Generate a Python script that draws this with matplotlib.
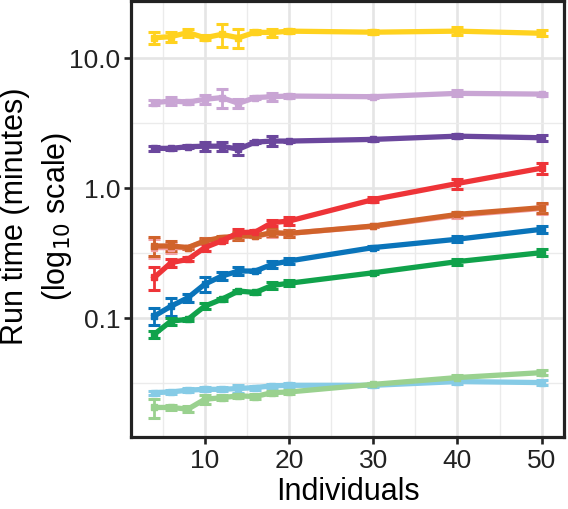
import numpy as np
import matplotlib
matplotlib.use("Agg")
import matplotlib.pyplot as plt
from matplotlib.ticker import FixedLocator, NullFormatter

plt.rcParams['font.family'] = ['Liberation Sans', 'DejaVu Sans']

individuals = [4, 6, 8, 10, 12, 14, 16, 18, 20, 30, 40, 50]

# run time (minutes) and error bar half-widths, one pair per series
yellow = [14.4, 14.7, 15.8, 14.4, 15.3, 14.4, 15.9, 15.8, 16.2, 15.9, 16.2, 15.6]
yellow_err = [1.6, 1.3, 1.1, 0.6, 3.0, 2.4, 0.6, 1.1, 0.6, 0.5, 1.1, 0.8]
lilac = [4.56, 4.70, 4.61, 4.84, 4.99, 4.51, 4.99, 5.07, 5.13, 5.07, 5.38, 5.31]
lilac_err = [0.2, 0.34, 0.15, 0.35, 0.85, 0.33, 0.15, 0.36, 0.2, 0.15, 0.28, 0.15]
purple = [2.03, 2.03, 2.09, 2.11, 2.11, 2.0, 2.27, 2.31, 2.31, 2.38, 2.52, 2.45]
purple_err = [0.08, 0.05, 0.05, 0.18, 0.18, 0.18, 0.05, 0.2, 0.05, 0.08, 0.08, 0.13]
pink = [0.35, 0.35, 0.35, 0.39, 0.41, 0.43, 0.43, 0.45, 0.45, 0.51, 0.62, 0.70]
pink_err = [0.06, 0.03, 0.01, 0.02, 0.01, 0.03, 0.01, 0.03, 0.03, 0.01, 0.03, 0.06]
orange = [0.36, 0.36, 0.35, 0.394, 0.418, 0.43, 0.43, 0.456, 0.45, 0.513, 0.63, 0.71]
orange_err = [0.06, 0.03, 0.01, 0.02, 0.01, 0.03, 0.01, 0.03, 0.03, 0.01, 0.03, 0.06]
red = [0.206, 0.268, 0.284, 0.35, 0.394, 0.456, 0.461, 0.545, 0.56, 0.82, 1.09, 1.43]
red_err = [0.04, 0.02, 0.01, 0.02, 0.01, 0.03, 0.015, 0.03, 0.04, 0.04, 0.1, 0.13]
blue = [0.104, 0.124, 0.144, 0.183, 0.211, 0.231, 0.231, 0.26, 0.276, 0.35, 0.406, 0.484]
blue_err = [0.016, 0.02, 0.01, 0.025, 0.015, 0.015, 0.005, 0.015, 0.015, 0.01, 0.02, 0.03]
green = [0.0753, 0.0953, 0.098, 0.124, 0.14, 0.162, 0.158, 0.179, 0.186, 0.224, 0.273, 0.32]
green_err = [0.005, 0.006, 0.003, 0.007, 0.003, 0.004, 0.004, 0.01, 0.01, 0.005, 0.015, 0.02]
lightblue = [0.0268, 0.0271, 0.028, 0.0284, 0.0284, 0.0288, 0.0293, 0.0302, 0.0305, 0.0305, 0.0326, 0.032]
lightblue_err = [0.001, 0.001, 0.001, 0.001, 0.001, 0.002, 0.001, 0.001, 0.001, 0.001, 0.0015, 0.0015]
lightgreen = [0.0206, 0.0206, 0.02, 0.0238, 0.0245, 0.0253, 0.025, 0.0268, 0.0271, 0.031, 0.035, 0.0382]
lightgreen_err = [0.0035, 0.001, 0.001, 0.002, 0.001, 0.001, 0.001, 0.001, 0.001, 0.001, 0.0015, 0.0015]

series = [
    (yellow, yellow_err, "#FFD21F"),
    (lilac, lilac_err, "#C9A5D4"),
    (purple, purple_err, "#6B479D"),
    (pink, pink_err, "#F3A0A6"),
    (orange, orange_err, "#D0632B"),
    (red, red_err, "#EE3438"),
    (blue, blue_err, "#0A74BA"),
    (green, green_err, "#10A24B"),
    (lightblue, lightblue_err, "#86CBE6"),
    (lightgreen, lightgreen_err, "#9AD18F"),
]

fig = plt.figure(figsize=(5.68, 5.09), dpi=100)
ax = fig.add_axes([0.2315, 0.1405, 0.7623, 0.8566])

for y, err, col in series:
    ax.errorbar(individuals, y, yerr=err, color=col, lw=3.8, elinewidth=2.0,
                capsize=4, capthick=2.2, marker='s', ms=5, zorder=3)

ax.set_yscale('log')
ax.set_xlim(1.3, 52.7)
ax.set_ylim(0.0121, 27.4)

ax.yaxis.set_major_locator(FixedLocator([0.1, 1.0, 10.0]))
ax.set_yticklabels(["0.1", "1.0", "10.0"])
ax.yaxis.set_minor_locator(FixedLocator([10**-1.5, 10**-0.5, 10**0.5]))
ax.yaxis.set_minor_formatter(NullFormatter())
ax.xaxis.set_major_locator(FixedLocator([10, 20, 30, 40, 50]))
ax.xaxis.set_minor_locator(FixedLocator([5, 15, 25, 35, 45]))

ax.grid(True, which='major', color='#E5E5E5', lw=1.9, zorder=0)
ax.grid(True, which='minor', color='#EBEBEB', lw=1.0, zorder=0)
ax.set_axisbelow(True)

for s in ax.spines.values():
    s.set_linewidth(2.3)
    s.set_color('#222222')

ax.tick_params(which='major', direction='out', length=5, width=1.9,
               color='#222222', labelsize=19, labelcolor='#222222', pad=3)
ax.tick_params(which='minor', length=0)

ax.set_xlabel("Individuals", fontsize=22, color='black', labelpad=3)
fig.text(0.0651, 0.5756, "Run time (minutes)\n(log$_{10}$ scale)", fontsize=22,
         rotation=90, ha='center', va='center', multialignment='center',
         linespacing=1.42, color='black')

fig.savefig("out.png", dpi=100)
